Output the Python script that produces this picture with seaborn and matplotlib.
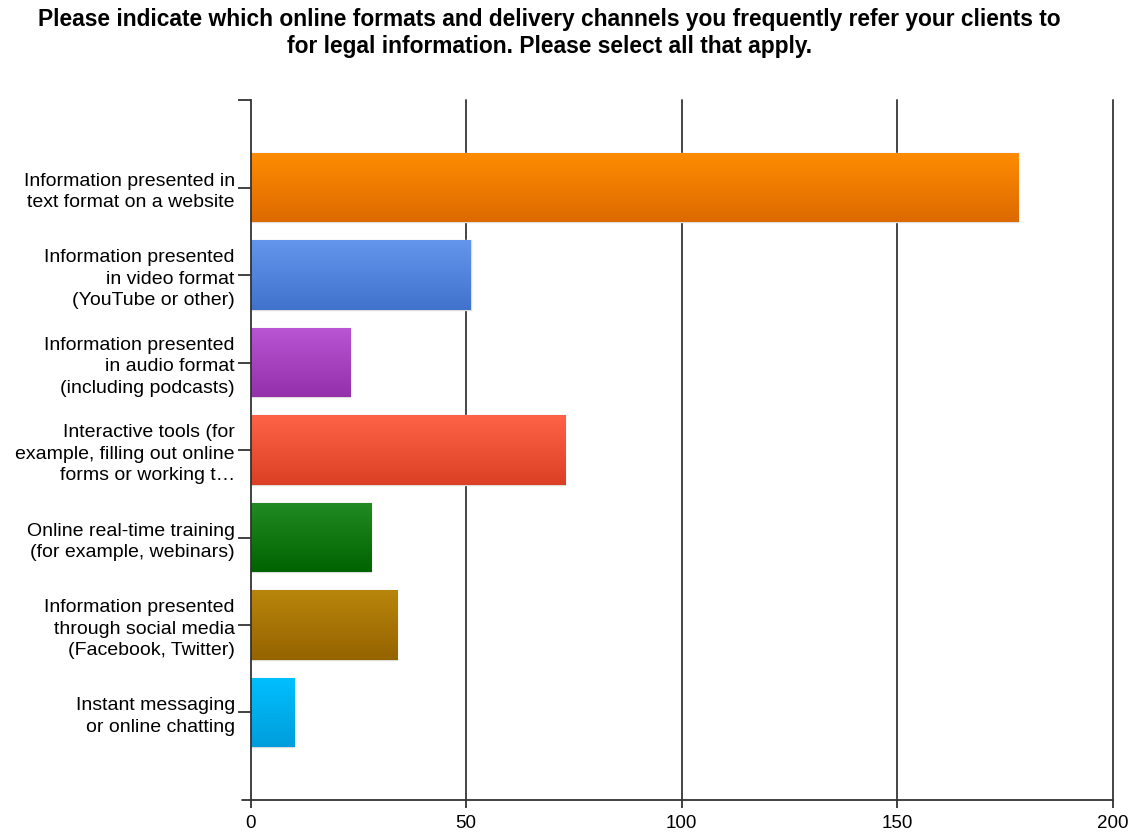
import numpy as np
import pandas as pd
import matplotlib
matplotlib.use("Agg")
import matplotlib.pyplot as plt
import seaborn as sns
from matplotlib.colors import LinearSegmentedColormap

categories = [
    "Information presented in\ntext format on a website",
    "Information presented\nin video format\n(YouTube or other)",
    "Information presented\nin audio format\n(including podcasts)",
    "Interactive tools (for\nexample, filling out online\nforms or working t\u2026",
    "Online real-time training\n(for example, webinars)",
    "Information presented\nthrough social media\n(Facebook, Twitter)",
    "Instant messaging\nor online chatting",
]
values = [178, 51, 23, 73, 28, 34, 10]
top_colors = ["#FF8C00", "#6495ED", "#BA55D3", "#FF6347", "#228B22", "#B8860B", "#00BFFF"]
bottom_colors = ["#DC6A00", "#4273CC", "#9330AA", "#DC4024", "#006400", "#956300", "#009EDB"]
x_ticks = [0, 50, 100, 150, 200]
title = ("Please indicate which online formats and delivery channels you frequently refer your clients to\n"
         "for legal information. Please select all that apply.")

sns.set_style("white", {"xtick.bottom": True, "ytick.left": True})
plt.rcParams['font.family'] = ['Liberation Sans', 'DejaVu Sans']

df = pd.DataFrame({"cat": categories, "val": values})

fig = plt.figure(figsize=(11.33, 8.34), dpi=100)
ax = fig.add_axes([0.2213, 0.0408, 0.982 - 0.2213, 0.880 - 0.0408])

sns.barplot(data=df, y="cat", x="val", hue="cat", palette=top_colors, legend=False,
            orient="h", width=0.79, ax=ax, edgecolor="#dddddd", linewidth=1.0, saturation=1)

# gradient fill clipped to each bar
for patch, c1, c2 in zip(ax.patches, top_colors, bottom_colors):
    x0, y0 = patch.get_x(), patch.get_y()
    w, h = patch.get_width(), patch.get_height()
    cmap = LinearSegmentedColormap.from_list("g", [c1, c2])
    grad = np.linspace(0, 1, 100).reshape(-1, 1)
    im = ax.imshow(grad, cmap=cmap, aspect="auto", extent=[x0, x0 + w, y0 + h, y0],
                   origin="upper", zorder=patch.get_zorder() + 0.1)
    im.set_clip_path(patch)

ax.set_xlim(0, 200)
ax.set_ylim(7, -1)
ax.set_xticks(x_ticks)
ax.set_xticklabels([str(t) for t in x_ticks], fontsize=13.5)
ax.tick_params(axis="y", left=True, labelsize=14, length=9.5, width=1.3, color="#333333",
               pad=2, labelcolor="black")
ax.tick_params(axis="x", bottom=True, length=6, width=1.3, color="#333333", pad=5,
               labelcolor="black")
for lbl in ax.get_yticklabels():
    lbl.set_multialignment("right")
    lbl.set_linespacing(1.34)

ax.set_yticks([-1], minor=True)
ax.tick_params(axis="y", which="minor", left=True, length=9.5, width=1.3, color="#333333")

ax.grid(False)
for t in x_ticks[1:]:
    ax.axvline(t, color="#444444", lw=1.4, zorder=0.5, clip_on=False)
# small extension of x axis line to the left
ax.plot([-2, 0], [7, 7], color="#333333", lw=1.3, clip_on=False)

for s in ["top", "right"]:
    ax.spines[s].set_visible(False)
for s in ["left", "bottom"]:
    ax.spines[s].set_color("#333333")
    ax.spines[s].set_linewidth(1.3)

ax.set_xlabel("")
ax.set_ylabel("")

fig.text(0.485, 0.99, title, ha="center", va="top", fontsize=16.4, fontweight="bold",
         linespacing=1.2, color="black")

fig.savefig("out.png", dpi=100)
